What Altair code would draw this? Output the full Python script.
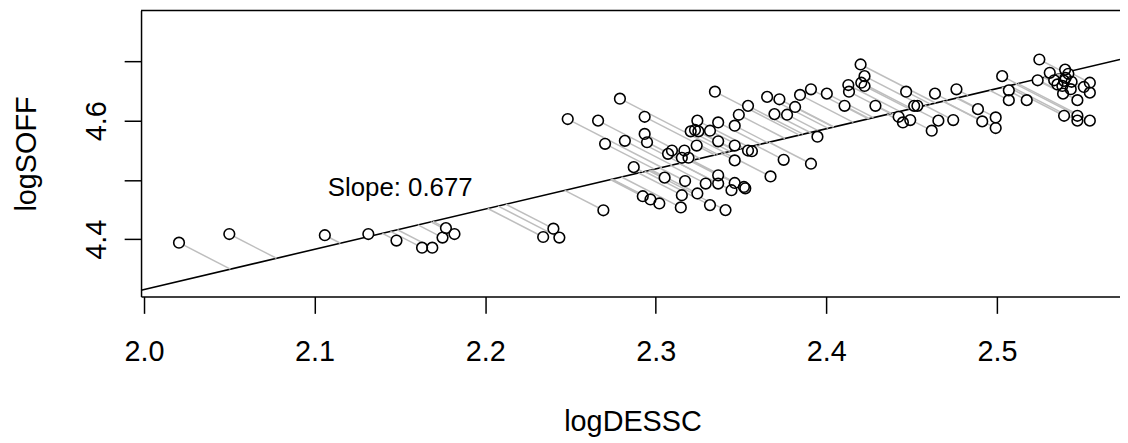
import altair as alt
import pandas as pd

# ---- data ----
logDESSC = [
    2.0205, 2.050, 2.106, 2.1315, 2.148, 2.163, 2.169, 2.175, 2.177, 2.182,
    2.234, 2.240, 2.2435,
    2.2484, 2.2662, 2.2703, 2.279, 2.2819, 2.2693, 2.2871, 2.2935, 2.2935, 2.2949,
    2.2924, 2.2969, 2.3021, 2.3052, 2.3072, 2.3095, 2.3168, 2.3153, 2.3192, 2.3172,
    2.3153, 2.3147, 2.3244, 2.3205, 2.323, 2.325, 2.324, 2.3244, 2.3293, 2.3318,
    2.3366, 2.3366, 2.3347, 2.3366, 2.3366, 2.3318, 2.3409, 2.3463, 2.3463, 2.3463,
    2.3487, 2.3541, 2.3541, 2.3564, 2.3463, 2.3444, 2.3517, 2.3525,
    2.3653, 2.3725, 2.3696, 2.377, 2.3817, 2.3846, 2.391, 2.3948, 2.375, 2.391,
    2.3673, 2.4003, 2.4107, 2.4129, 2.4133, 2.4201, 2.4224, 2.4205, 2.4224, 2.4288,
    2.4468, 2.4424, 2.4449, 2.4492, 2.4515, 2.4534, 2.4637, 2.4618, 2.4657, 2.4744,
    2.4763, 2.4889, 2.4914, 2.4993, 2.4993,
    2.5031, 2.507, 2.507, 2.5175, 2.5249, 2.5239, 2.531, 2.5336, 2.540, 2.5419,
    2.5394, 2.5438, 2.5384, 2.5433, 2.5388, 2.5472, 2.5394, 2.5472, 2.5472, 2.5545,
    2.5545, 2.5545, 2.551, 2.5355, 2.5403,
]
logSOFF = [
    4.3944, 4.409, 4.407, 4.409, 4.398, 4.386, 4.386, 4.403, 4.419, 4.409,
    4.404, 4.418, 4.403,
    4.6027, 4.600, 4.561, 4.637, 4.566, 4.449, 4.5217, 4.6065, 4.5776, 4.5636,
    4.4727, 4.4672, 4.4605, 4.504, 4.5441, 4.5497, 4.5497, 4.5375, 4.5375, 4.4983,
    4.4744, 4.4538, 4.600, 4.582, 4.5843, 4.582, 4.558, 4.4773, 4.494, 4.583,
    4.597, 4.5652, 4.6488, 4.5079, 4.494, 4.4577, 4.4493, 4.5915, 4.558, 4.533,
    4.6099, 4.6249, 4.5497, 4.5485, 4.495, 4.4828, 4.4883, 4.486,
    4.640, 4.636, 4.611, 4.610, 4.623, 4.6433, 4.6528, 4.573, 4.534, 4.5274,
    4.506, 4.6455, 4.625, 4.660, 4.6488, 4.6946, 4.675, 4.6639, 4.6584, 4.625,
    4.6488, 4.6065, 4.597, 4.601, 4.625, 4.625, 4.6455, 4.5831, 4.600, 4.601,
    4.6528, 4.6194, 4.5987, 4.6054, 4.5876,
    4.675, 4.651, 4.6345, 4.6345, 4.703, 4.668, 4.6806, 4.668, 4.686, 4.679,
    4.667, 4.6655, 4.6584, 4.653, 4.6455, 4.6345, 4.6082, 4.6082, 4.600, 4.600,
    4.6639, 4.6472, 4.6567, 4.661, 4.672,
]
SLOPE = 0.677
INTERCEPT = 2.96158
slope_label = "Slope: 0.677"
label_pos = [2.1502, 4.4727]

x_ticks = [2.0, 2.1, 2.2, 2.3, 2.4, 2.5]
y_ticks = [4.4, 4.5, 4.6, 4.7]
y_labelled = [4.4, 4.6]
X_DOMAIN = [1.99825, 2.57218]
Y_DOMAIN = [4.3038, 4.7855]

# ---- derived tables ----
pts = pd.DataFrame({"x": logDESSC, "y": logSOFF})
b, a = SLOPE, INTERCEPT
pts["xp"] = (pts["x"] + b * (pts["y"] - a)) / (1 + b * b)
pts["yp"] = a + b * pts["xp"]
line_df = pd.DataFrame({"x": X_DOMAIN, "y": [a + b * v for v in X_DOMAIN]})
text_df = pd.DataFrame({"x": [label_pos[0]], "y": [label_pos[1]], "t": [slope_label]})

W, H = 986, 288
FONT = "Liberation Sans"
FS = 29

xscale = alt.Scale(domain=X_DOMAIN, nice=False, zero=False)
yscale = alt.Scale(domain=Y_DOMAIN, nice=False, zero=False)

lab_expr = " || ".join(f"abs(datum.value - {v}) < 0.001" for v in y_labelled)

xaxis = alt.Axis(
    values=x_ticks, format=".1f", title="logDESSC", grid=False,
    tickSize=17, tickWidth=1.5, tickColor="black",
    domainColor="black", domainWidth=1.5,
    labelFont=FONT, labelFontSize=FS, labelColor="black",
    labelBaseline="alphabetic", labelAlign="center", labelPadding=47,
    labelFlush=False, labelOverlap=False,
    titleFont=FONT, titleFontSize=FS, titleFontWeight="normal", titleColor="black",
    titleBaseline="alphabetic", titleAlign="center", titleX=495, titleY=135,
)
yaxis = alt.Axis(
    values=y_ticks, title="logSOFF", grid=False,
    labelExpr=f"({lab_expr}) ? format(datum.value, '.1f') : ''",
    tickSize=17, tickWidth=1.5, tickColor="black",
    domainColor="black", domainWidth=1.5,
    labelFont=FONT, labelFontSize=FS, labelColor="black",
    labelAngle=270, labelAlign="center", labelBaseline="alphabetic",
    labelPadding=18.3, labelFlush=False, labelOverlap=False,
    titleFont=FONT, titleFontSize=FS, titleFontWeight="normal", titleColor="black",
    titleAngle=270, titleBaseline="alphabetic", titleAlign="center",
    titleX=-106, titleY=144,
)

line = alt.Chart(line_df).mark_line(color="black", strokeWidth=1.6).encode(
    x=alt.X("x:Q", scale=xscale, axis=xaxis),
    y=alt.Y("y:Q", scale=yscale, axis=yaxis),
)
segs = alt.Chart(pts).mark_rule(color="#bebebe", strokeWidth=1.5).encode(
    x=alt.X("x:Q", scale=xscale), y=alt.Y("y:Q", scale=yscale),
    x2="xp:Q", y2="yp:Q",
)
fills = alt.Chart(pts).mark_point(
    shape="circle", filled=True, fill="white", opacity=1, size=115, strokeWidth=0
).encode(x=alt.X("x:Q", scale=xscale), y=alt.Y("y:Q", scale=yscale))
rings = alt.Chart(pts).mark_point(
    shape="circle", filled=False, stroke="black", opacity=1, size=115, strokeWidth=1.6
).encode(x=alt.X("x:Q", scale=xscale), y=alt.Y("y:Q", scale=yscale))
label = alt.Chart(text_df).mark_text(
    font=FONT, fontSize=26, align="center", baseline="alphabetic", color="black"
).encode(x=alt.X("x:Q", scale=xscale), y=alt.Y("y:Q", scale=yscale), text="t:N")
top = alt.Chart(text_df).mark_rule(color="black", strokeWidth=1.5).encode(
    x=alt.value(0), x2=alt.value(W), y=alt.value(0)
)

chart = alt.layer(line, segs, fills, rings, label, top).properties(
    width=W, height=H,
    autosize=alt.AutoSizeParams(type="none"),
    padding={"left": 134, "top": 1, "right": 0, "bottom": 142},
    background="white",
).configure_view(stroke=None)

chart.save("out.html", embed_options={"renderer": "svg", "actions": False})
